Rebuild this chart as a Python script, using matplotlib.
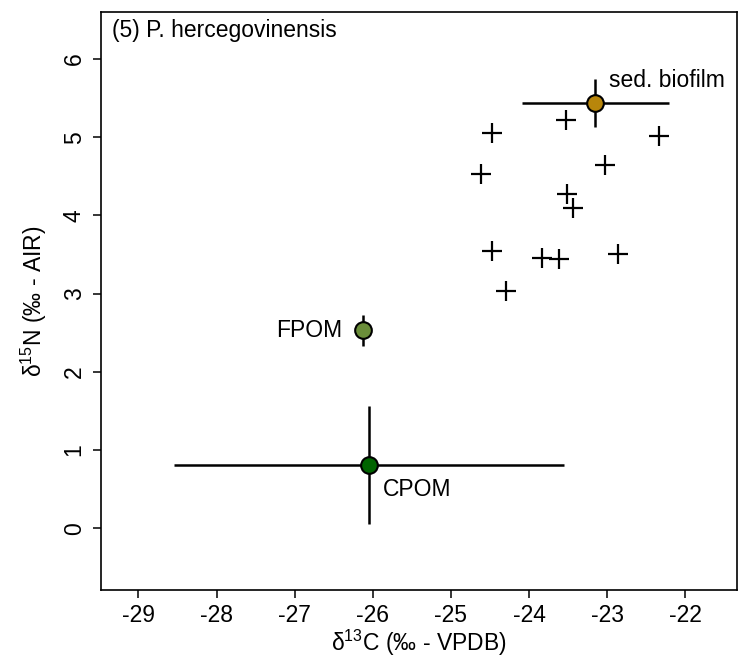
import matplotlib
matplotlib.use("Agg")
import matplotlib.pyplot as plt

plt.rcParams['font.family'] = ['Liberation Sans', 'DejaVu Sans']
plt.rcParams['mathtext.default'] = 'regular'
plt.rcParams['axes.unicode_minus'] = False

# consumer samples (crosses)
cons_c = [-24.47, -23.53, -24.62, -22.33, -23.02, -23.51, -23.44, -24.47, -23.83, -23.61, -22.86, -24.30]
cons_n = [5.05, 5.22, 4.53, 5.01, 4.65, 4.27, 4.09, 3.55, 3.46, 3.44, 3.51, 3.03]

# food sources: mean +- sd
src_names = ["sed. biofilm", "FPOM", "CPOM"]
src_c = [-23.15, -26.12, -26.05]
src_n = [5.44, 2.53, 0.81]
src_c_sd = [0.94, 0.0, 2.50]
src_n_sd = [0.31, 0.20, 0.75]
src_cols = ["#B8860B", "#6B8E3A", "#006400"]
# label offsets (points) and alignment
src_off = [(10, 16), (-15, 0), (10, -18)]
src_ha = ["left", "right", "left"]

fs = 16.5

fig = plt.figure(figsize=(7.46, 6.61), dpi=100)
ax = fig.add_axes([0.1354, 0.1074, 0.8521, 0.8744])

ax.plot(cons_c, cons_n, linestyle='none', marker='+', markersize=15,
        markeredgewidth=1.6, color='black', zorder=3)

for i in range(len(src_names)):
    ax.errorbar(src_c[i], src_n[i], xerr=src_c_sd[i] if src_c_sd[i] > 0 else None,
                yerr=src_n_sd[i], fmt='none', ecolor='black', elinewidth=1.8,
                capsize=0, zorder=2)
    ax.plot(src_c[i], src_n[i], marker='o', markersize=12, markerfacecolor=src_cols[i],
            markeredgecolor='black', markeredgewidth=1.5, linestyle='none', zorder=4)
    ax.annotate(src_names[i], (src_c[i], src_n[i]), xytext=src_off[i],
                textcoords='offset points', ha=src_ha[i], va='center', fontsize=fs)

ax.set_xlim(-29.48, -21.34)
ax.set_ylim(-0.79, 6.60)
ax.set_xticks(range(-29, -21))
ax.set_yticks(range(0, 7))
ax.tick_params(axis='both', labelsize=fs, length=6, width=1.1, direction='out')
ax.tick_params(axis='x', pad=4)
ax.tick_params(axis='y', pad=5)
for lab in ax.get_yticklabels():
    lab.set_rotation(90)
    lab.set_va('center')
for s in ax.spines.values():
    s.set_linewidth(1.2)

ax.set_xlabel('δ$^{13}$C (‰ - VPDB)', fontsize=fs, labelpad=1)
ax.set_ylabel('δ$^{15}$N (‰ - AIR)', fontsize=fs, labelpad=10)
ax.text(0.018, 0.988, '(5) P. hercegovinensis', transform=ax.transAxes,
        ha='left', va='top', fontsize=fs)

fig.savefig("out.png", dpi=100)
